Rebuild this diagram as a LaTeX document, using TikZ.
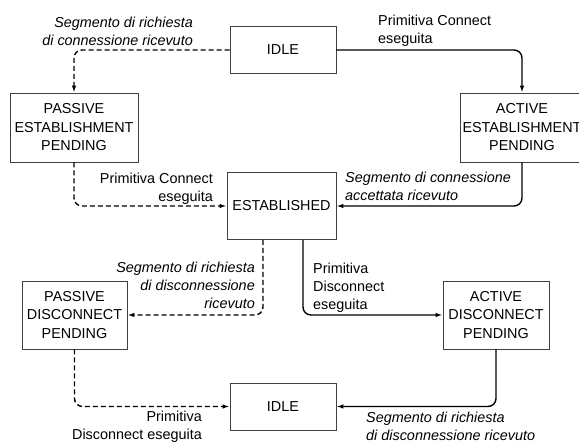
\documentclass[tikz,border=0pt]{standalone}
\usepackage{fontspec}
\setmainfont{Liberation Sans}
\usetikzlibrary{arrows.meta}
\begin{document}
\begin{tikzpicture}[x=1pt,y=-1pt,
  state/.style={draw=black!75,line width=0.8pt,inner sep=0pt,align=center,
    font=\fontsize{14.4}{18.5}\selectfont},
  lbl/.style={inner sep=0pt,font=\fontsize{14.4}{18}\selectfont},
  ilbl/.style={lbl,font=\fontsize{14.4}{18}\selectfont\itshape},
  conn/.style={line width=1.4pt,rounded corners=8pt,-{Latex[length=7pt,width=4.5pt]}},
  dconn/.style={conn,dash pattern=on 5pt off 3pt}]
\useasboundingbox (0,0) rectangle (579,443);
\node[state,minimum width=106pt,minimum height=47pt] (idleA) at (283,50) {IDLE};
\node[state,minimum width=128pt,minimum height=69pt] (pe) at (74,127.5) {PASSIVE\\ESTABLISHMENT\\PENDING};
\node[state,minimum width=124pt,minimum height=69pt] (ae) at (522,127.5) {ACTIVE\\ESTABLISHMENT\\PENDING};
\node[state,minimum width=109pt,minimum height=67pt] (est) at (281.5,206) {ESTABLISHED};
\node[state,minimum width=105pt,minimum height=68pt] (pd) at (74.5,315) {PASSIVE\\DISCONNECT\\PENDING};
\node[state,minimum width=106pt,minimum height=68pt] (ad) at (496,315) {ACTIVE\\DISCONNECT\\PENDING};
\node[state,minimum width=106pt,minimum height=47pt] (idleB) at (283,406.5) {IDLE};

\draw[dconn] (idleA.west) -| (pe.north);
\draw[conn] (idleA.east) -| (ae.north);
\draw[conn] (ae.south) |- (est.east);
\draw[dconn] (pe.south) |- (est.west);
\draw[dconn] ([xshift=-18.5pt]est.south) |- (pd.east);
\draw[conn] ([xshift=21.5pt]est.south) |- (ad.west);
\draw[dconn] (pd.south) |- (idleB.west);
\draw[conn] (ad.south) |- (idleB.east);

\node[ilbl,align=right,anchor=east] (l1) at (193,31) {Segmento di richiesta\\di connessione ricevuto};
\node[lbl,align=left,anchor=west] (l2) at (378,31) {Primitiva Connect\\eseguita};
\node[ilbl,align=left,anchor=west] (l3) at (345,186) {Segmento di connessione\\accettata ricevuto};
\node[lbl,align=right,anchor=east] (l4) at (213,189) {Primitiva Connect\\eseguita};
\node[ilbl,align=right,anchor=east] (l5) at (255,285) {Segmento di richiesta\\di disconnessione\\ricevuto};
\node[lbl,align=left,anchor=west] (l6) at (313,288) {Primitiva\\Disconnect\\eseguita};
\node[lbl,align=right,anchor=east] (l7) at (202,427) {Primitiva\\Disconnect eseguita};
\node[ilbl,align=left,anchor=west] (l8) at (366,426) {Segmento di richiesta\\di disconnessione ricevuto};
\end{tikzpicture}
\end{document}
